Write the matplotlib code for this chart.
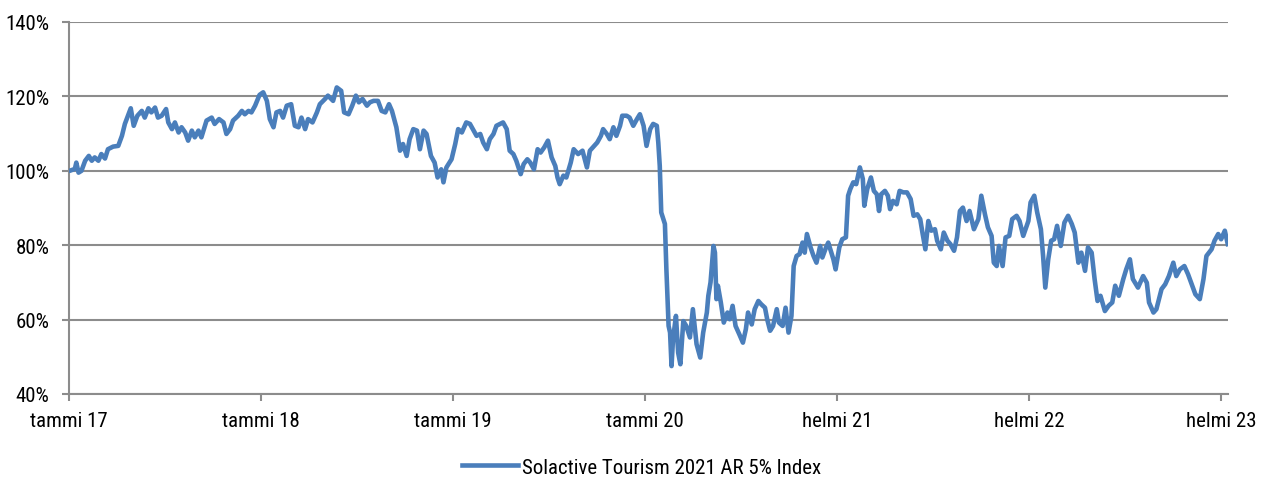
import matplotlib
matplotlib.use("Agg")
import matplotlib.pyplot as plt

# trading-day index (0 = start of Jan 2017) and index level in %
days = [0, 1, 8, 10, 13, 17, 22, 27, 31, 35, 40, 44, 49, 53, 60, 67, 72, 76, 81, 84,
        88, 93, 99, 103, 108, 112, 117, 121, 126, 132, 135, 140, 144, 149, 153, 158,
        162, 167, 171, 176, 180, 187, 194, 198, 204, 210, 214, 219, 223, 230, 235,
        239, 244, 248, 253, 259,
        264, 269, 273, 278, 282, 287, 291, 296, 302, 307, 312, 316, 321, 325, 331,
        337, 341, 348, 352, 359, 364, 370, 374, 380, 385, 390, 394, 399, 405, 409,
        414, 420, 425, 430, 435, 439, 445, 450, 454, 459, 463, 468, 473, 477, 482,
        486, 492, 497, 501, 506, 509, 513, 520, 525,
        529, 534, 540, 545, 550, 554, 559, 563, 568, 572, 577, 581, 586, 590, 595,
        599, 604, 608, 614, 618, 623, 627, 632, 637, 641, 646, 651, 656, 661, 664,
        667, 672, 676, 682, 686, 692, 698, 704, 708, 714, 718, 723, 726, 731, 735,
        740, 744, 749, 752, 758, 762, 767, 772, 776,
        781, 785, 790, 794, 799, 801, 803, 805, 810, 812, 815, 817, 819, 821, 825,
        828, 831, 835, 839, 844, 848, 853, 858, 862, 867, 869, 872, 876, 878, 880,
        882, 886, 890, 895, 898, 902, 906, 911, 916, 920, 923, 928, 932, 937, 941,
        946, 949, 953, 957, 962, 965, 970, 974, 978, 982, 985, 989, 993, 997, 1000,
        1003, 1008, 1012, 1016, 1021, 1024, 1029, 1032,
        1039, 1042, 1047, 1051, 1056, 1059, 1062, 1066, 1070, 1075, 1079, 1081, 1085,
        1090, 1094, 1098, 1101, 1104, 1109, 1113, 1116, 1120, 1125, 1129, 1134, 1139,
        1144, 1148, 1153, 1157, 1160, 1164, 1168, 1172, 1177, 1180, 1185, 1189, 1194,
        1198, 1203, 1207, 1211, 1215, 1220, 1224, 1230, 1236, 1240, 1245, 1249, 1254,
        1257, 1261, 1264, 1269, 1273, 1278, 1282, 1288, 1292, 1297,
        1304, 1307, 1312, 1316, 1321, 1324, 1327, 1331, 1335, 1339, 1343, 1348, 1353,
        1358, 1363, 1367, 1372, 1376, 1381, 1385, 1390, 1394, 1398, 1402, 1408, 1413,
        1418, 1422, 1427, 1433, 1437, 1442, 1446, 1453, 1460, 1465, 1468, 1474, 1478,
        1485, 1490, 1495, 1501, 1505, 1510, 1516, 1521, 1526, 1531, 1537, 1542, 1546,
        1553, 1557, 1562, 1566, 1571, 1575]

values = [100, 100, 100.5, 102.2, 99.5, 100, 102.7, 104, 102.7, 103.6, 102.7, 104.5,
          103.3, 105.8, 106.5, 106.7, 109.4, 112.6, 115.2, 116.8, 112.1, 114.8, 116.1,
          114.3, 116.8, 115.7, 117, 114.3, 114.8, 116.6, 113, 111.2, 113, 110.3, 111.7,
          110.3, 108.1, 110.8, 109, 110.8, 109, 113.5, 114.3, 112.6, 113.9, 113, 109.9,
          111.2, 113.5, 114.8, 116.1, 115.2, 116.1, 115.7, 117.5, 120.4,
          121.1, 118.8, 113.9, 111.7, 115.7, 116.1, 114.3, 117.5, 117.9, 112.1, 111.7,
          114.3, 111.2, 113.9, 113, 115.7, 117.9, 119.3, 120.2, 118.8, 122.4, 121.5,
          115.7, 115.2, 117.5, 120.2, 118.4, 119.3, 117.5, 118.4, 118.8, 118.8, 116.1,
          115.7, 117.9, 116.1, 111.7, 105.4, 107.2, 104, 108.5, 111.2, 110.8, 105.8,
          110.8, 109.9, 104, 102.2, 98.2, 100.4, 96.9, 100.9, 103.1, 107.2,
          111.2, 110.3, 113, 112.6, 110.8, 109.4, 109.9, 107.6, 105.8, 108.5, 109.9,
          112.1, 112.6, 113, 111.2, 105.4, 104.5, 102.7, 99.1, 101.8, 103.1, 102.2,
          100.4, 105.8, 104.9, 106.3, 108.1, 103.6, 101.3, 98.2, 96.4, 98.7, 98.2,
          102.2, 105.8, 104.5, 105.4, 100.9, 105.4, 106.7, 107.6, 109.4, 111.2, 109.9,
          108.5, 111.7, 109.4, 112.1, 114.8, 114.8, 114.3, 112.1, 113.9, 115.2,
          112.1, 106.7, 111.2, 112.6, 112.1, 107.6, 101.3, 88.8, 85.7, 73.5, 58.3, 56.5,
          47.5, 54.7, 61, 51.1, 48, 59.6, 58.3, 55.2, 62.8, 53.4, 49.8, 56.5, 61.9, 66.4,
          70, 79.8, 78, 65.5, 69.1, 64.6, 59.2, 61.9, 60.1, 63.7, 58.3, 56.1, 53.8, 57.4,
          61.9, 58.7, 62.8, 65, 64.1, 63.2, 60.1, 57, 58.3, 62.8, 59.2, 58.3, 63.2, 56.5,
          61, 74.4, 77.1, 77.6, 80.7, 78, 83, 79.4, 77.1, 75.3, 79.8, 76.7, 79.4, 80.7,
          76.2, 73.5, 79.4, 81.6, 82.1, 93.3, 95.1, 96.9, 96.4, 100.9, 97.8, 90.6, 95.1,
          98.2, 94.6, 93.7, 89.2, 93.7, 94.6, 93.3, 89.7, 91.9, 91, 94.6, 94.2, 94.2,
          92.4, 87.9, 88.3, 87, 83.4, 78.9, 86.5, 83.9, 84.3, 81.2, 78.9, 83.4, 81.2,
          80.3, 78.5, 82.1, 89.2, 90.1, 86.5, 89.2, 84.3, 87, 93.3, 88.3, 84.8, 82.5,
          75.3, 74.4, 79.8, 74.4, 82.1, 82.5, 87, 87.9, 86.5, 82.5,
          86.5, 91.5, 93.3, 88.8, 84.3, 77.1, 68.6, 76.2, 81.2, 81.6, 85.2, 79.8, 86.1,
          87.9, 85.7, 83.4, 75.3, 78, 73.1, 79.4, 78, 70.9, 65, 66.4, 62.3, 63.7,
          64.6, 69.1, 66.4, 70.9, 73.5, 76.2, 70.9, 68.6, 71.7, 69.9, 64.6, 61.9, 62.8,
          68.2, 69.5, 71.7, 75.3, 71.7, 73.5, 74.4, 72.2, 69.5, 66.8, 65.5, 70.9, 77.1,
          78.9, 81.2, 83, 81.6, 83.9, 80.3]

tick_days = [0, 261, 522, 783, 1044, 1305, 1566]
tick_labels = ["tammi 17", "tammi 18", "tammi 19", "tammi 20",
               "helmi 21", "helmi 22", "helmi 23"]
y_ticks = [40, 60, 80, 100, 120, 140]
series_name = "Solactive Tourism 2021 AR 5% Index"

plt.rcParams["font.family"] = ["Roboto Condensed", "Roboto", "DejaVu Sans"]

fig = plt.figure(figsize=(12.63, 4.81), dpi=100)
ax = fig.add_axes([0.0546, 0.1788, 0.9175, 0.7734])

grid_col = "#8c8c8c"
ax.plot(days, values, color="#4a7ebb", lw=3.3, solid_joinstyle="round",
        label=series_name, zorder=3)

ax.set_xlim(0, 1575)
ax.set_ylim(40, 140)
ax.set_yticks(y_ticks)
ax.set_yticklabels([f"{v}%" for v in y_ticks])
ax.set_xticks(tick_days)
ax.set_xticklabels(tick_labels)
ax.grid(axis="y", color=grid_col, lw=1.5)
ax.set_axisbelow(True)

for side in ["top", "right"]:
    ax.spines[side].set_visible(False)
for side in ["left", "bottom"]:
    ax.spines[side].set_color(grid_col)
    ax.spines[side].set_linewidth(1.5)

ax.tick_params(axis="y", length=5, width=1.5, color=grid_col, pad=9,
               labelsize=15, labelcolor="black")
ax.tick_params(axis="x", length=5, width=1.5, color=grid_col, pad=7,
               labelsize=15, labelcolor="black")

fig.legend(loc="center", bbox_to_anchor=(0.508, 0.027), frameon=False,
           fontsize=15, handlelength=2.7, handletextpad=0.2)

fig.savefig("out.png", dpi=100)
